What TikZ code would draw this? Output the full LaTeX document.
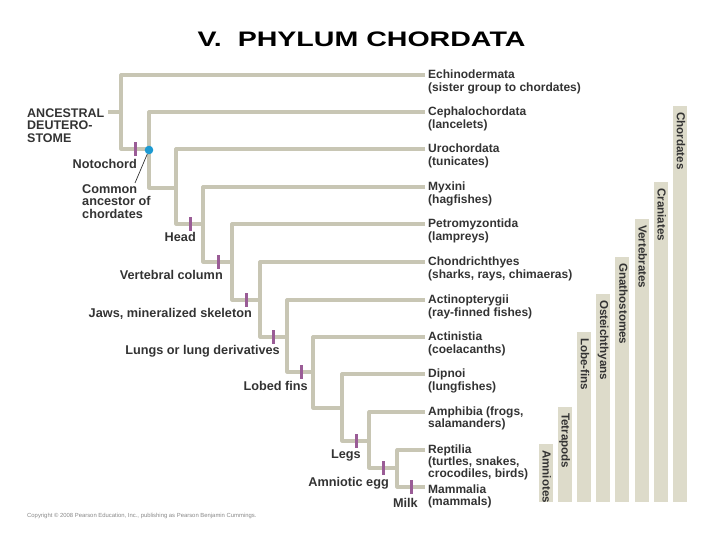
\documentclass[tikz,border=0pt]{standalone}
\usepackage{fontspec}
\setmainfont{Liberation Sans}
\definecolor{branchc}{HTML}{C8C6B4}
\definecolor{tickc}{HTML}{9A5C96}
\definecolor{barc}{HTML}{DDDBCA}
\definecolor{dotc}{HTML}{1C9AD2}
\definecolor{txtc}{HTML}{333333}
\definecolor{cpyc}{HTML}{888888}
\tikzset{
  branch/.style={draw=branchc, line width=3.2pt, line join=round},
  tickmark/.style={fill=tickc, draw=none, minimum width=3pt, minimum height=14pt, inner sep=0pt},
  leaflbl/.style={anchor=base west, inner sep=0pt, text=txtc, font=\fontsize{12}{12.8}\selectfont\bfseries},
  charlbl/.style={inner sep=0pt, text=txtc, font=\fontsize{12.7}{13}\selectfont\bfseries},
  barbox/.style={fill=barc, draw=none, minimum width=14pt, inner sep=0pt, anchor=north},
  bartxt/.style={rotate=-90, anchor=west, inner sep=0pt, text=txtc, text height=8.5pt, text depth=2.5pt, font=\fontsize{11.6}{12}\selectfont\bfseries},
}
\newcommand{\lines}[1]{\begin{tabular}[t]{@{}l@{}}#1\end{tabular}}
\begin{document}
\begin{tikzpicture}[x=1pt,y=-1pt]
\useasboundingbox (0,0) rectangle (720,540);
% title
\node[inner sep=0pt, xscale=1.36, font=\fontsize{21}{24}\selectfont\bfseries] (title) at (361.5,39) {V.\ \ PHYLUM CHORDATA};
% tree coordinates
\coordinate (A) at (108,112);
\coordinate (T0) at (121,75);  \coordinate (B0) at (121,149);
\coordinate (T1) at (149,112); \coordinate (B1) at (149,188);
\coordinate (T2) at (176,149); \coordinate (B2) at (176,224);
\coordinate (T3) at (203,187); \coordinate (B3) at (203,262);
\coordinate (T4) at (232,224); \coordinate (B4) at (232,300);
\coordinate (T5) at (260,262); \coordinate (B5) at (260,337);
\coordinate (T6) at (287,300); \coordinate (B6) at (287,372);
\coordinate (T7) at (313,337); \coordinate (B7) at (313,408);
\coordinate (T8) at (342,374); \coordinate (B8) at (342,441);
\coordinate (T9) at (369,412); \coordinate (B9) at (369,468);
\coordinate (T10) at (397,450); \coordinate (B10) at (397,487);
\foreach \i/\y in {0/75,1/112,2/149,3/187,4/224,5/262,6/300,7/337,8/374,9/412,10/450,11/487}
  \coordinate (E\i) at (425,\y);
% branches
\draw[branch] (A) -- (A -| T0);
\foreach \k/\n in {0/1,1/2,2/3,3/4,4/5,5/6,6/7,7/8,8/9,9/10}
  \draw[branch] (E\k) -- (T\k) -- (B\k) -- (B\k -| T\n);
\draw[branch] (E10) -- (T10) -- (B10) -- (E11);
% ticks
\node[tickmark] (k1) at (135,149) {};
\node[tickmark] (k2) at (190,224) {};
\node[tickmark] (k3) at (218,262) {};
\node[tickmark] (k4) at (246,300) {};
\node[tickmark] (k5) at (273,337) {};
\node[tickmark] (k6) at (301,372) {};
\node[tickmark] (k7) at (356,441) {};
\node[tickmark] (k8) at (383,468) {};
\node[tickmark] (k9) at (411,487) {};
% common ancestor
\node[circle, fill=dotc, minimum size=8.6pt, inner sep=0pt] (dot) at (149,150) {};
\coordinate (cae) at (135,183);
\draw[line width=0.7pt, draw=txtc] (dot) -- (cae);
% character labels
\node[charlbl, anchor=base west, font=\fontsize{12.5}{12}\selectfont\bfseries] (anc) at (27,117.5) {\lines{ANCESTRAL\\DEUTERO-\\STOME}};
\node[charlbl, anchor=base east] (lNoto) at (137,168.5) {Notochord};
\node[charlbl, anchor=base west, font=\fontsize{12.7}{10.6}\selectfont\bfseries] (lCA) at (82,193.5) {\lines{Common\\ancestor of\\chordates}};
\node[charlbl, anchor=base east] (lHead) at (196,241.5) {Head};
\node[charlbl, anchor=base east] (lVert) at (223,279.5) {Vertebral column};
\node[charlbl, anchor=base east] (lJaws) at (252,317.5) {Jaws, mineralized skeleton};
\node[charlbl, anchor=base east] (lLung) at (280,354.5) {Lungs or lung derivatives};
\node[charlbl, anchor=base east] (lLobe) at (308,390.5) {Lobed fins};
\node[charlbl, anchor=base east] (lLegs) at (361,458.5) {Legs};
\node[charlbl, anchor=base east] (lAmn) at (389,486.5) {Amniotic egg};
\node[charlbl, anchor=base east] (lMilk) at (418,507.5) {Milk};
% leaf labels
\node[leaflbl] (lf0) at (428,78.5) {\lines{Echinodermata\\(sister group to chordates)}};
\node[leaflbl] (lf1) at (428,115.5) {\lines{Cephalochordata\\(lancelets)}};
\node[leaflbl] (lf2) at (428,152.5) {\lines{Urochordata\\(tunicates)}};
\node[leaflbl] (lf3) at (428,190.5) {\lines{Myxini\\(hagfishes)}};
\node[leaflbl] (lf4) at (428,227.5) {\lines{Petromyzontida\\(lampreys)}};
\node[leaflbl] (lf5) at (428,265.5) {\lines{Chondrichthyes\\(sharks, rays, chimaeras)}};
\node[leaflbl] (lf6) at (428,303.5) {\lines{Actinopterygii\\(ray-finned fishes)}};
\node[leaflbl] (lf7) at (428,340.5) {\lines{Actinistia\\(coelacanths)}};
\node[leaflbl] (lf8) at (428,377.5) {\lines{Dipnoi\\(lungfishes)}};
\node[leaflbl, font=\fontsize{12}{11.8}\selectfont\bfseries] (lf9) at (428,415.5) {\lines{Amphibia (frogs,\\salamanders)}};
\node[leaflbl, font=\fontsize{12}{11.2}\selectfont\bfseries] (lf10) at (428,453.5) {\lines{Reptilia\\(turtles, snakes,\\crocodiles, birds)}};
\node[leaflbl] (lf11) at (428,493) {\lines{Mammalia\\(mammals)}};
% clade bars
\foreach \nm/\cx/\top in {Amniotes/545.5/444, Tetrapods/564.7/407, Lobe-fins/583.9/332, Osteichthyans/603.1/294, Gnathostomes/622.3/257, Vertebrates/641.5/219, Craniates/660.7/182, Chordates/679.9/106}{
  \pgfmathsetmacro{\hh}{502-\top}
  \node[barbox, minimum height=\hh pt] (bar\nm) at (\cx,\top) {};
  \node[bartxt] (txt\nm) at ([yshift=-6pt]bar\nm.north) {\nm};
}
% copyright
\node[anchor=base west, inner sep=0pt, text=cpyc, font=\fontsize{5.9}{6}\selectfont] (copy) at (27,517) {Copyright © 2008 Pearson Education, Inc., publishing as Pearson Benjamin Cummings.};
\end{tikzpicture}
\end{document}
